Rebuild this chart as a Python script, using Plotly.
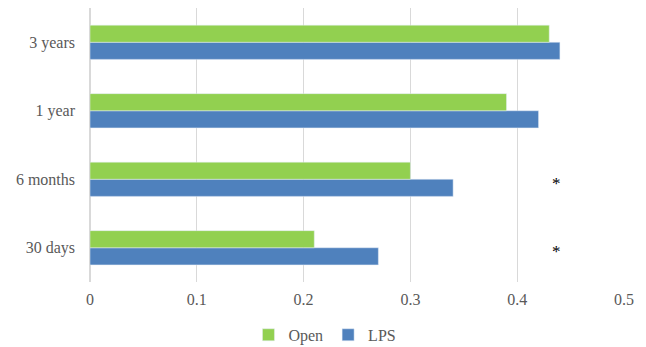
import plotly.graph_objects as go

categories = ["30 days", "6 months", "1 year", "3 years"]
open_vals = [0.21, 0.30, 0.39, 0.43]
lps_vals = [0.27, 0.34, 0.42, 0.44]
star_cats = ["30 days", "6 months"]
star_x = 0.437
x_ticks = [0, 0.1, 0.2, 0.3, 0.4, 0.5]

FONT = "Liberation Serif"
TXT = "#595959"

fig = go.Figure()
fig.add_trace(go.Bar(y=categories, x=lps_vals, name="LPS", orientation="h",
                     marker=dict(color="#4F81BD"), legendrank=2))
fig.add_trace(go.Bar(y=categories, x=open_vals, name="Open", orientation="h",
                     marker=dict(color="#92D050"), legendrank=1))

for c in star_cats:
    fig.add_annotation(x=star_x, y=c, text="*", showarrow=False,
                       font=dict(family=FONT, size=17, color="#000000"), yshift=-4)

fig.update_layout(
    width=646, height=347,
    margin=dict(l=90, r=22, t=8, b=65, autoexpand=False),
    barmode="group", bargap=0.5, bargroupgap=0,
    plot_bgcolor="white", paper_bgcolor="white",
    font=dict(family=FONT, size=16, color=TXT),
    xaxis=dict(range=[0, 0.5], tickvals=x_ticks, ticktext=[str(v) for v in x_ticks],
               showgrid=True, gridcolor="#D9D9D9", gridwidth=1, zeroline=True,
               zerolinecolor="#D9D9D9", showline=False, ticks="", ticklabelstandoff=6,
               automargin=False),
    yaxis=dict(categoryorder="array", categoryarray=categories, showgrid=False,
               ticks="", ticklabelstandoff=14, automargin=False),
    legend=dict(orientation="h", x=0.44, xanchor="center", yref="container",
                y=0.035, yanchor="middle", font=dict(size=16, color=TXT),
                itemwidth=30),
    showlegend=True,
)

fig.write_html("out.html")
